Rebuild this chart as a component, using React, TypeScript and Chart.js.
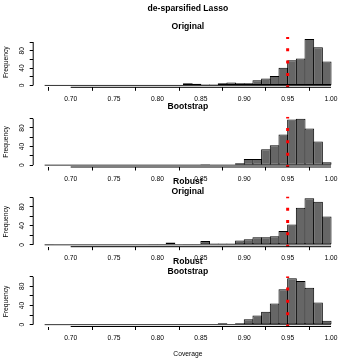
import React, { useEffect, useRef } from 'react';
import { Chart, registerables } from 'chart.js';

Chart.register(...registerables);
Chart.defaults.font.family = "'Liberation Sans', Arial, Helvetica, sans-serif";

// ---------------- data ----------------
const binLefts = [
  0.67, 0.68, 0.69, 0.70, 0.71, 0.72, 0.73, 0.74, 0.75, 0.76, 0.77,
  0.78, 0.79, 0.80, 0.81, 0.82, 0.83, 0.84, 0.85, 0.86, 0.87, 0.88,
  0.89, 0.90, 0.91, 0.92, 0.93, 0.94, 0.95, 0.96, 0.97, 0.98, 0.99,
];
const binWidth = 0.01;

const originalCounts = [
  0, 0, 0, 0, 0, 1, 0, 0, 0, 0, 0,
  0, 0, 1, 0, 1, 5, 4, 2, 2, 5, 7,
  5, 5, 12, 16, 22, 41, 58, 62, 107, 88, 55,
];
const bootstrapCounts = [
  0, 0, 0, 0, 0, 0, 0, 0, 0, 0, 0,
  0, 0, 0, 0, 0, 0, 0, 2, 0, 0, 0,
  4, 13, 13, 34, 43, 66, 98, 100, 79, 51, 6,
];
const robustOriginalCounts = [
  2, 0, 0, 0, 0, 0, 0, 0, 0, 0, 1,
  1, 2, 2, 5, 1, 2, 2, 8, 3, 3, 3,
  9, 12, 16, 16, 18, 29, 43, 78, 98, 91, 60,
];
const robustBootstrapCounts = [
  0, 0, 0, 0, 0, 0, 0, 0, 0, 0, 0,
  0, 0, 0, 0, 0, 0, 0, 1, 1, 3, 1,
  3, 11, 19, 27, 44, 74, 97, 91, 77, 46, 8,
];

const nominalCoverage = 0.95;
const xTickValues = [0.70, 0.75, 0.80, 0.85, 0.90, 0.95, 1.00];
const yTickValues = [0, 20, 40, 60, 80, 100];
const yTickLabels = ['0', '', '40', '', '80', ''];

const mainTitle = 'de-sparsified Lasso';
const panelTitles = [['Original'], ['Bootstrap'], ['Robust', 'Original'], ['Robust', 'Bootstrap']];
const panelCounts = [originalCounts, bootstrapCounts, robustOriginalCounts, robustBootstrapCounts];
const xAxisTitle = 'Coverage';
const yAxisTitle = 'Frequency';

// ---------------- layout / style ----------------
const W = 360;
const H = 360;
const panelTops = [37.1, 116.8, 196.5, 276.3];
const panelHeight = 50.2;
const plotLeft = 33.2;
const plotRight = 342.5;
const axisFont = 6.7;
const titleFont = 8.6;
const titleLine = 10;

const rAxisLines = {
  id: 'rAxisLines',
  afterDraw(chart: any) {
    const { ctx, chartArea, scales } = chart;
    const xs = scales.x;
    const ys = scales.y;
    ctx.save();
    ctx.strokeStyle = '#000';
    ctx.lineWidth = 1;
    ctx.beginPath();
    const xt = xs.ticks;
    ctx.moveTo(xs.getPixelForValue(xt[0].value), chartArea.bottom);
    ctx.lineTo(xs.getPixelForValue(xt[xt.length - 1].value), chartArea.bottom);
    const yt = ys.ticks;
    ctx.moveTo(chartArea.left, ys.getPixelForValue(yt[0].value));
    ctx.lineTo(chartArea.left, ys.getPixelForValue(yt[yt.length - 1].value));
    ctx.stroke();
    ctx.restore();
  },
};

// outline of the empty (zero-height) histogram cells along the baseline
const histBaseline = {
  id: 'histBaseline',
  beforeDatasetsDraw(chart: any) {
    const { ctx, scales } = chart;
    const xs = scales.x;
    const ys = scales.y;
    const y0 = ys.getPixelForValue(0);
    ctx.save();
    ctx.strokeStyle = '#333';
    ctx.lineWidth = 1;
    ctx.beginPath();
    ctx.moveTo(xs.getPixelForValue(binLefts[0]), y0);
    ctx.lineTo(xs.getPixelForValue(binLefts[binLefts.length - 1] + binWidth), y0);
    ctx.stroke();
    ctx.restore();
  },
};

const nominalLine = {
  id: 'nominalLine',
  afterDatasetsDraw(chart: any) {
    const { ctx, chartArea, scales } = chart;
    const x = scales.x.getPixelForValue(nominalCoverage);
    ctx.save();
    ctx.beginPath();
    ctx.rect(chartArea.left, chartArea.top, chartArea.right - chartArea.left, chartArea.bottom - chartArea.top);
    ctx.clip();
    ctx.strokeStyle = '#ff0000';
    ctx.lineWidth = 3;
    ctx.setLineDash([3, 9.35]);
    ctx.lineDashOffset = 1;
    ctx.beginPath();
    ctx.moveTo(x, chartArea.bottom);
    ctx.lineTo(x, chartArea.top);
    ctx.stroke();
    ctx.restore();
  },
};

function buildConfig(idx: number): any {
  const counts = panelCounts[idx];
  const isFirst = idx === 0;
  const isLast = idx === panelCounts.length - 1;
  const maxCount = Math.max(...counts);
  const xRange = binLefts[binLefts.length - 1] + binWidth - binLefts[0];
  const xMin = binLefts[0] - 0.04 * xRange;
  const xMax = binLefts[binLefts.length - 1] + binWidth + 0.04 * xRange;

  const top = panelTops[idx];
  const bottom = top + panelHeight;
  const xAxisHeight = isLast ? 31.5 : 20;
  let padTop: number;
  let titlePad: any;
  if (isFirst) {
    padTop = 0;
    titlePad = { top: 4, bottom: 0 };
  } else if (panelTitles[idx].length === 1) {
    padTop = top - 20;
    titlePad = { top: 5, bottom: 5 };
  } else {
    padTop = top - 20;
    titlePad = { top: 0, bottom: 0 };
  }
  const padBottom = H - bottom - xAxisHeight;
  const tFont = { size: titleFont, weight: 'bold', lineHeight: titleLine / titleFont };

  return {
    type: 'bar',
    data: {
      datasets: [
        {
          data: binLefts.map((b, i) => ({ x: b + binWidth / 2, y: counts[i] })),
          backgroundColor: '#666666',
          borderColor: '#000000',
          borderWidth: 1,
          borderSkipped: false,
          barPercentage: 1.115,
          categoryPercentage: 1,
        },
      ],
    },
    options: {
      responsive: false,
      animation: false,
      devicePixelRatio: 1,
      layout: { padding: { top: padTop, left: 0, right: W - plotRight, bottom: padBottom } },
      plugins: {
        legend: { display: false },
        tooltip: { enabled: false },
        title: {
          display: true,
          text: isFirst ? mainTitle : panelTitles[idx],
          font: tFont,
          color: '#000',
          fullSize: false,
          padding: titlePad,
        },
        subtitle: isFirst
          ? {
              display: true,
              text: panelTitles[0],
              font: tFont,
              color: '#000',
              fullSize: false,
              padding: { top: 8, bottom: 5.1 },
            }
          : { display: false },
      },
      scales: {
        x: {
          type: 'linear',
          min: xMin,
          max: xMax,
          offset: false,
          bounds: 'data',
          afterBuildTicks: (s: any) => {
            s.ticks = xTickValues.map((v) => ({ value: v }));
          },
          ticks: {
            callback: (v: any) => Number(v).toFixed(2),
            font: { size: axisFont },
            color: '#000',
            padding: 4.2,
            autoSkip: false,
            minRotation: 0,
            maxRotation: 0,
          },
          grid: { display: true, drawOnChartArea: false, drawTicks: true, tickLength: 3.5, color: '#000', lineWidth: 1 },
          border: { display: false },
          title: isLast
            ? { display: true, text: xAxisTitle, font: { size: axisFont }, color: '#000', padding: { top: 0, bottom: 0 } }
            : { display: false },
          afterFit: (s: any) => {
            s.height = xAxisHeight;
          },
        },
        y: {
          type: 'linear',
          min: -0.04 * maxCount,
          max: 1.04 * maxCount,
          bounds: 'data',
          afterBuildTicks: (s: any) => {
            s.ticks = yTickValues.map((v) => ({ value: v }));
          },
          ticks: {
            callback: (_v: any, i: number) => yTickLabels[i],
            font: { size: axisFont },
            color: '#000',
            padding: 4.27,
            minRotation: 90,
            maxRotation: 90,
            crossAlign: 'center',
            autoSkip: false,
          },
          grid: { display: true, drawOnChartArea: false, drawTicks: true, tickLength: 3.5, color: '#000', lineWidth: 1 },
          border: { display: false },
          title: { display: true, text: yAxisTitle, font: { size: axisFont }, color: '#000', padding: { top: 1.8, bottom: 0 } },
          afterFit: (s: any) => {
            s.width = plotLeft;
          },
        },
      },
    },
    plugins: [histBaseline, nominalLine, rAxisLines],
  };
}

function Panel({ idx }: { idx: number }) {
  const ref = useRef<HTMLCanvasElement>(null);
  useEffect(() => {
    if (!ref.current) return;
    const chart = new Chart(ref.current, buildConfig(idx));
    return () => chart.destroy();
  }, [idx]);
  return (
    <canvas
      ref={ref}
      width={W}
      height={H}
      style={{ position: 'absolute', left: 0, top: 0, width: W, height: H }}
    />
  );
}

export default function App() {
  return (
    <div style={{ position: 'absolute', left: 0, top: 0, width: W, height: H, background: '#ffffff' }}>
      {panelCounts.map((_c, i) => (
        <Panel key={i} idx={i} />
      ))}
    </div>
  );
}
